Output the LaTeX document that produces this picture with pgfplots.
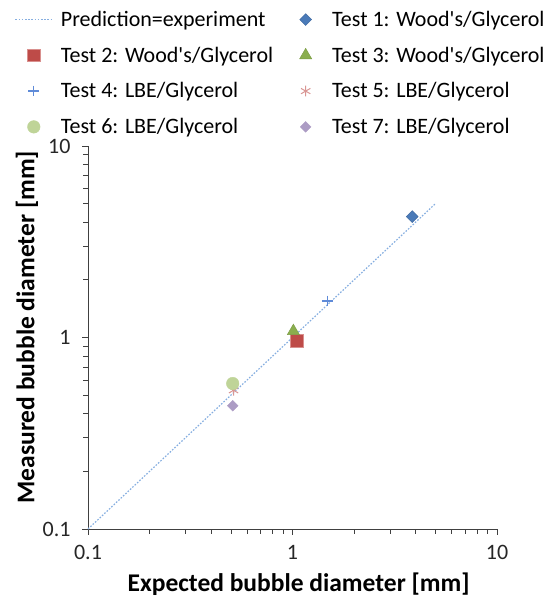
\documentclass[border=0pt]{standalone}
\usepackage{fontspec}
\setmainfont{Carlito}
\usepackage{pgfplots}
\pgfplotsset{compat=1.18}
\definecolor{cLine}{HTML}{86AEE0}
\definecolor{cT1}{HTML}{4A7AB8}
\definecolor{cT1d}{HTML}{3A659C}
\definecolor{cT2}{HTML}{BE4B48}
\definecolor{cT2d}{HTML}{D9908E}
\definecolor{cT3}{HTML}{8AAE4E}
\definecolor{cT3d}{HTML}{7A9B43}
\definecolor{cT4}{HTML}{5F8BD8}
\definecolor{cT5}{HTML}{D99694}
\definecolor{cT6}{HTML}{BFD498}
\definecolor{cT7}{HTML}{AC9CC4}
\definecolor{cAx}{HTML}{404040}
\begin{document}
\begin{tikzpicture}
\useasboundingbox (-88pt,-72pt) rectangle (464pt,529pt);
\begin{axis}[
  scale only axis, width=409pt, height=383pt,
  xmode=log, ymode=log,
  xmin=0.1, xmax=10, ymin=0.1, ymax=10,
  axis lines*=left,
  axis line style={draw=cAx, line width=0.8pt},
  xtick={0.1,1,10}, xticklabels={0.1,1,10},
  ytick={0.1,1,10}, yticklabels={0.1,1,10},
  minor xtick={0.2,0.3,0.4,0.5,0.6,0.7,0.8,0.9,2,3,4,5,6,7,8,9},
  minor ytick={0.2,0.3,0.4,0.5,0.6,0.7,0.8,0.9,2,3,4,5,6,7,8,9},
  tick align=outside,
  major tick length=6pt, minor tick length=5pt,
  every tick/.style={draw=cAx, line width=0.8pt},
  ticklabel style={font=\fontsize{22}{26}\selectfont, text=black!85},
  xticklabel style={yshift=-7pt},
  yticklabel style={xshift=-8pt},
  xlabel={Expected bubble diameter [mm]},
  ylabel={Measured bubble diameter [mm]},
  xlabel style={at={(axis description cs:0.515,0)}, anchor=center, yshift=-55pt,
    font=\fontsize{25.5}{30}\selectfont\bfseries},
  ylabel style={at={(axis description cs:0,0.527)}, anchor=center, yshift=61pt,
    font=\fontsize{25.5}{30}\selectfont\bfseries},
  clip=false,
  legend columns=2,
  legend cell align=left,
  legend style={
    at={(axis description cs:-0.187,1.363)}, anchor=north west,
    draw=none, fill=none,
    font=\fontsize{22}{26}\selectfont,
    row sep=15pt,
    /tikz/every odd column/.append style={column sep=5pt},
    /tikz/every even column/.append style={column sep=11pt},
    nodes={inner xsep=3pt},
  },
  legend image code/.code={%
    \path[draw=none,fill=none] (0pt,-5pt) rectangle (37pt,5pt);
    \draw[mark repeat=2,mark phase=2] plot coordinates {(0pt,0pt) (18.5pt,0pt) (37pt,0pt)};},
]
\addplot[cLine, line width=1.2pt, dash pattern=on 1.6pt off 1.6pt, no marks,
  legend image code/.code={\path[draw=none,fill=none] (0pt,-5pt) rectangle (37pt,5pt);\draw[cLine, line width=1.2pt, dash pattern=on 1.6pt off 1.6pt] (0pt,0pt) -- (37pt,0pt);}]
  coordinates {(0.1,0.1) (5,5)};
\addlegendentry{Prediction=experiment}
\addplot[only marks, mark=square*, mark size=4.2pt, mark options={rotate=45, fill=cT1, draw=cT1d, line width=0.4pt}]
  coordinates {(3.85,4.28)};
\addlegendentry{Test 1: Wood\textquotesingle s/Glycerol}
\addplot[only marks, mark=square*, mark size=6.2pt, mark options={fill=cT2, draw=cT2d, line width=0.6pt}]
  coordinates {(1.05,0.96)};
\addlegendentry{Test 2: Wood\textquotesingle s/Glycerol}
\addplot[only marks, mark=triangle*, mark size=7pt, mark options={fill=cT3, draw=cT3d, line width=0.4pt}]
  coordinates {(1.01,1.08)};
\addlegendentry{Test 3: Wood\textquotesingle s/Glycerol}
\addplot[only marks, color=cT4, mark=+, mark size=5.4pt, mark options={draw=cT4, line width=1.2pt}]
  coordinates {(1.48,1.55)};
\addlegendentry{Test 4: LBE/Glycerol}
\addplot[only marks, color=cT5, mark=asterisk, mark size=5.4pt, mark options={draw=cT5, line width=1pt}]
  coordinates {(0.515,0.53)};
\addlegendentry{Test 5: LBE/Glycerol}
\addplot[only marks, mark=*, mark size=6.3pt, mark options={fill=cT6, draw=cT6, line width=0.4pt}]
  coordinates {(0.51,0.575)};
\addlegendentry{Test 6: LBE/Glycerol}
\addplot[only marks, mark=square*, mark size=3.8pt, mark options={rotate=45, fill=cT7, draw=cT7, line width=0.4pt}]
  coordinates {(0.51,0.44)};
\addlegendentry{Test 7: LBE/Glycerol}
\end{axis}
\end{tikzpicture}
\end{document}
